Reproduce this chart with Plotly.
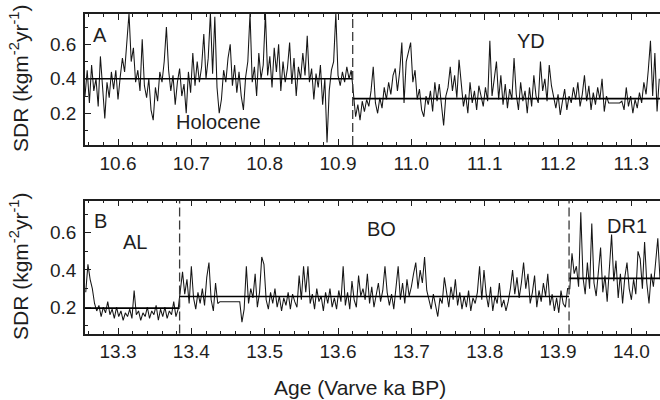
import numpy as np
import plotly.graph_objects as go

W, H = 660, 400

# Sediment dry-mass accumulation rate (SDR, kg m-2 yr-1), 3-yr resolution
HOLOCENE = [
    0.30, 0.45, 0.26, 0.48, 0.33, 0.40, 0.24, 0.53, 0.35, 0.17,
    0.38, 0.29, 0.44, 0.34, 0.45, 0.28, 0.41, 0.52, 0.44, 0.61,
    0.78, 0.50, 0.58, 0.38, 0.45, 0.33, 0.63, 0.36, 0.29, 0.40,
    0.22, 0.16, 0.35, 0.27, 0.44, 0.38, 0.50, 0.70, 0.45, 0.33,
    0.42, 0.25, 0.38, 0.46, 0.30, 0.37, 0.20, 0.44, 0.32, 0.55,
    0.36, 0.50, 0.38, 0.47, 0.66, 0.40, 0.52, 0.78, 0.43, 0.76,
    0.35, 0.20, 0.28, 0.45, 0.38, 0.52, 0.60, 0.36, 0.48, 0.32,
    0.44, 0.30, 0.22, 0.41, 0.50, 0.78, 0.38, 0.47, 0.30, 0.55,
    0.40, 0.48, 0.78, 0.42, 0.53, 0.35, 0.58, 0.44, 0.60, 0.33,
    0.50, 0.38, 0.46, 0.61, 0.37, 0.52, 0.30, 0.47, 0.40, 0.55,
    0.42, 0.65, 0.38, 0.46, 0.28, 0.43, 0.35, 0.48, 0.25, 0.40,
    0.03, 0.33, 0.45, 0.50, 0.78, 0.42, 0.36, 0.44, 0.38, 0.47,
    0.40, 0.45,
]
YOUNGER_DRYAS = [
    0.30, 0.18, 0.25, 0.16, 0.27, 0.21, 0.28, 0.24, 0.33, 0.47,
    0.26, 0.20, 0.29, 0.23, 0.35, 0.28, 0.38, 0.31, 0.42, 0.46,
    0.33, 0.44, 0.61, 0.26, 0.50, 0.55, 0.61, 0.38, 0.45, 0.28,
    0.34, 0.22, 0.18, 0.30, 0.25, 0.33, 0.21, 0.38, 0.27, 0.37,
    0.24, 0.13, 0.30, 0.35, 0.47, 0.33, 0.42, 0.29, 0.51, 0.36,
    0.24, 0.31, 0.20, 0.38, 0.26, 0.33, 0.22, 0.36, 0.29, 0.24,
    0.35, 0.27, 0.62, 0.30, 0.40, 0.50, 0.28, 0.42, 0.25, 0.37,
    0.23, 0.34, 0.28, 0.52, 0.31, 0.22, 0.38, 0.27, 0.33, 0.20,
    0.35, 0.24, 0.42, 0.30, 0.26, 0.50, 0.33, 0.40, 0.27, 0.48,
    0.36, 0.29, 0.23, 0.31, 0.19, 0.27, 0.34, 0.22, 0.30, 0.26,
    0.35, 0.28, 0.38, 0.24, 0.31, 0.42, 0.27, 0.36, 0.22, 0.32,
    0.25, 0.35, 0.28, 0.40, 0.21, 0.30, 0.26, 0.26, 0.26, 0.26,
    0.26, 0.26, 0.27, 0.22, 0.35, 0.24, 0.30, 0.20, 0.28, 0.23,
    0.32, 0.26, 0.38, 0.31, 0.45, 0.62, 0.30, 0.55, 0.21, 0.40,
]
ALLEROD = [
    0.28, 0.43, 0.35, 0.30, 0.22, 0.18, 0.21, 0.15, 0.20, 0.17,
    0.23, 0.16, 0.19, 0.14, 0.20, 0.15, 0.18, 0.13, 0.17, 0.15,
    0.19, 0.14, 0.29, 0.16, 0.18, 0.13, 0.17, 0.15, 0.20, 0.14,
    0.18, 0.16, 0.21, 0.13, 0.19, 0.15, 0.20, 0.14, 0.18, 0.16,
    0.23, 0.15, 0.19,
]
BOLLING = [
    0.30, 0.39, 0.27, 0.35, 0.22, 0.42, 0.25, 0.19, 0.28, 0.22,
    0.30, 0.21, 0.36, 0.44, 0.24, 0.18, 0.33, 0.22, 0.23, 0.23,
    0.23, 0.23, 0.23, 0.23, 0.23, 0.23, 0.23, 0.23, 0.12, 0.19,
    0.42, 0.22, 0.30, 0.25, 0.38, 0.20, 0.28, 0.47, 0.43, 0.24,
    0.19, 0.28, 0.22, 0.30, 0.20, 0.26, 0.18, 0.25, 0.21, 0.28,
    0.19, 0.27, 0.23, 0.20, 0.37, 0.24, 0.42, 0.28, 0.42, 0.22,
    0.27, 0.19, 0.30, 0.23, 0.26, 0.18, 0.28, 0.22, 0.30, 0.20,
    0.25, 0.19, 0.29, 0.23, 0.42, 0.21, 0.28, 0.19, 0.34, 0.24,
    0.20, 0.37, 0.26, 0.30, 0.24, 0.38, 0.22, 0.31, 0.20, 0.27,
    0.33, 0.23, 0.29, 0.42, 0.28, 0.21, 0.27, 0.19, 0.30, 0.42,
    0.24, 0.33, 0.22, 0.35, 0.26, 0.31, 0.38, 0.44, 0.30, 0.40,
    0.33, 0.47, 0.29, 0.24, 0.19, 0.27, 0.21, 0.15, 0.25, 0.22,
    0.36, 0.27, 0.20, 0.31, 0.24, 0.35, 0.21, 0.28, 0.19, 0.26,
    0.20, 0.29, 0.18, 0.25, 0.22, 0.28, 0.42, 0.24, 0.40, 0.27,
    0.20, 0.31, 0.18, 0.26, 0.22, 0.33, 0.20, 0.24, 0.18, 0.23,
    0.30, 0.40, 0.27, 0.36, 0.25, 0.33, 0.44, 0.30, 0.38, 0.22,
    0.28, 0.37, 0.20, 0.29, 0.23, 0.33, 0.26, 0.38, 0.21, 0.27,
    0.18, 0.25, 0.17, 0.29, 0.22, 0.20, 0.30,
]
DRYAS1 = [
    0.30, 0.49, 0.38, 0.42, 0.31, 0.71, 0.36, 0.27, 0.44, 0.30,
    0.65, 0.33, 0.26, 0.40, 0.52, 0.28, 0.37, 0.23, 0.40, 0.59,
    0.34, 0.45, 0.25, 0.38, 0.22, 0.36, 0.44, 0.30, 0.24, 0.35,
    0.27, 0.50, 0.46, 0.30, 0.55, 0.33, 0.22, 0.38, 0.31, 0.45,
    0.57, 0.35,
]

# First varve age (ka BP) of each record segment and sampling step
STEP = 0.003
HOLOCENE_START = 10.555
YD_START = 10.921
AL_START = 13.256
BO_START = 13.385
DR1_START = 13.916

# Period boundaries (ka BP) and period mean SDR
A_BOUNDS = [10.555, 10.92, 11.34]
A_MEANS = [0.40, 0.285]
B_BOUNDS = [13.255, 13.384, 13.915, 14.04]
B_MEANS = [0.195, 0.258, 0.355]

A_XRANGE = [10.555, 11.339]
B_XRANGE = [13.255, 14.039]
A_YRANGE = [0.016, 0.776]
B_YRANGE = [0.059, 0.773]
X_TICKS_MINOR = 0.02
Y_TICKS = [0.2, 0.4, 0.6]
Y_TICKS_MINOR = [0.1, 0.3, 0.5, 0.7]


def ages(start, values):
    return np.round(start + STEP * np.arange(len(values)), 4)


ax_x = np.concatenate([ages(HOLOCENE_START, HOLOCENE), ages(YD_START, YOUNGER_DRYAS)])
ax_y = HOLOCENE + YOUNGER_DRYAS
bx_x = np.concatenate([ages(AL_START, ALLEROD), ages(BO_START, BOLLING),
                       ages(DR1_START, DRYAS1)])
bx_y = ALLEROD + BOLLING + DRYAS1

INK = "#1e1e1e"
FONT = "Liberation Sans, Arial, Helvetica, sans-serif"

fig = go.Figure()

series_style = dict(mode="lines", line=dict(color="#161616", width=1.05),
                    showlegend=False, hoverinfo="skip")
fig.add_trace(go.Scatter(x=ax_x, y=ax_y, xaxis="x", yaxis="y", **series_style))
fig.add_trace(go.Scatter(x=bx_x, y=bx_y, xaxis="x2", yaxis="y2", **series_style))

mean_style = dict(mode="lines", line=dict(color="#000000", width=1.6),
                  showlegend=False, hoverinfo="skip")
for i, m in enumerate(A_MEANS):
    fig.add_trace(go.Scatter(x=[A_BOUNDS[i], A_BOUNDS[i + 1]], y=[m, m],
                             xaxis="x", yaxis="y", **mean_style))
for i, m in enumerate(B_MEANS):
    fig.add_trace(go.Scatter(x=[B_BOUNDS[i], B_BOUNDS[i + 1]], y=[m, m],
                             xaxis="x2", yaxis="y2", **mean_style))

# dashed boundaries between climatic periods
dash_line = dict(color="#3a3a3a", width=1.3, dash="9px,4px")
for b in A_BOUNDS[1:-1]:
    fig.add_shape(type="line", xref="x", yref="y domain", x0=b, x1=b, y0=0, y1=1,
                  line=dash_line)
for b in B_BOUNDS[1:-1]:
    fig.add_shape(type="line", xref="x2", yref="y2 domain", x0=b, x1=b, y0=0, y1=1,
                  line=dash_line)


def xaxis(rng, anchor):
    return dict(
        domain=[85 / W, 1], anchor=anchor, range=rng,
        showline=True, linecolor=INK, linewidth=1.5, mirror="allticks",
        ticks="inside", ticklen=6, tickwidth=1.2, tickcolor=INK,
        dtick=0.1, tickformat=".1f", showgrid=False, zeroline=False,
        tickfont=dict(size=19, color=INK, family=FONT),
        minor=dict(dtick=X_TICKS_MINOR, ticks="inside", ticklen=3,
                   tickwidth=1, tickcolor=INK, showgrid=False),
    )


def yaxis(rng, anchor, top_px, bottom_px):
    return dict(
        domain=[1 - bottom_px / H, 1 - top_px / H], anchor=anchor, range=rng,
        showline=True, linecolor=INK, linewidth=1.5, mirror=False,
        ticks="inside", ticklen=6, tickwidth=1.2, tickcolor=INK,
        tickvals=Y_TICKS, tickformat=".1f", showgrid=False, zeroline=False,
        ticklabelstandoff=3,
        tickfont=dict(size=19, color=INK, family=FONT),
        minor=dict(tickvals=Y_TICKS_MINOR, ticks="inside", ticklen=3,
                   tickwidth=1, tickcolor=INK, showgrid=False),
    )


def label(text, px, py, size=20, **kw):
    return dict(text=text, xref="paper", yref="paper", x=px / W, y=1 - py / H,
                xanchor="center", yanchor="middle", showarrow=False,
                font=dict(size=size, color=INK, family=FONT), **kw)


sdr = "SDR (kgm<sup>-2</sup>yr<sup>-1</sup>)"
fig.update_layout(
    width=W, height=H,
    margin=dict(l=0, r=0, t=0, b=0),
    paper_bgcolor="white", plot_bgcolor="white",
    xaxis=xaxis(A_XRANGE, "y"),
    yaxis=yaxis(A_YRANGE, "x", 14, 145),
    xaxis2=xaxis(B_XRANGE, "y2"),
    yaxis2=yaxis(B_YRANGE, "x2", 200.5, 333.5),
    annotations=[
        label("A", 100, 35),
        label("Holocene", 218, 122),
        label("YD", 531, 41),
        label("B", 100, 221),
        label("AL", 135, 242),
        label("BO", 382, 229),
        label("DR1", 627, 226),
        label("Age (Varve ka BP)", 360, 387, size=21),
        label(sdr, 19, 79, size=21, textangle=-90),
        label(sdr, 19, 267, size=21, textangle=-90),
    ],
)

fig.write_html("out.html")
